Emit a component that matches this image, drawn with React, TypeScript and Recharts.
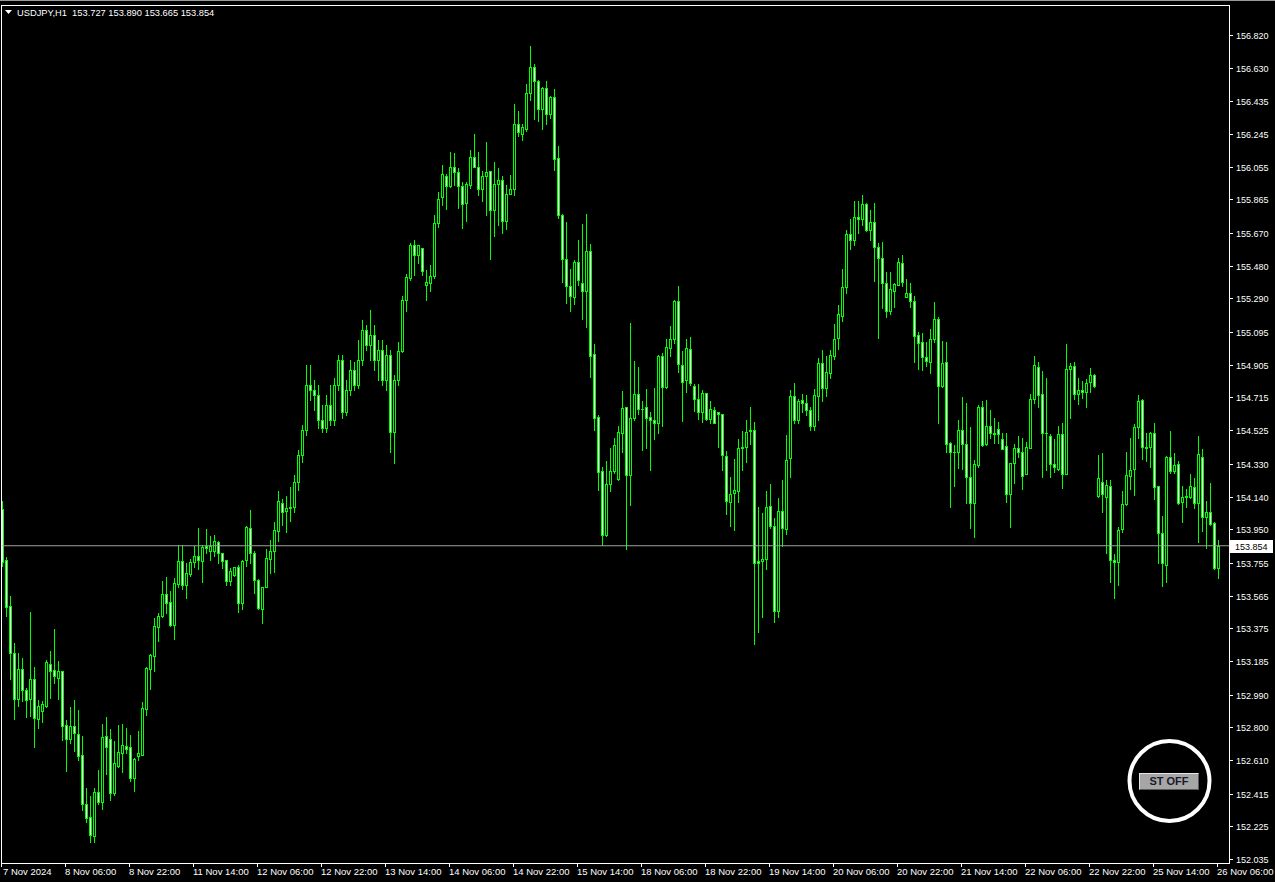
import { ComposedChart, Bar, XAxis, YAxis, ReferenceLine } from "recharts";

const SYMBOL = "USDJPY,H1";
const LAST_OHLC = [153.727, 153.89, 153.665, 153.854];
const LAST_PRICE = 153.854;

// one label every 16 hourly bars
const TIME_LABELS = [
  "7 Nov 2024", "8 Nov 06:00", "8 Nov 22:00", "11 Nov 14:00", "12 Nov 06:00",
  "12 Nov 22:00", "13 Nov 14:00", "14 Nov 06:00", "14 Nov 22:00", "15 Nov 14:00",
  "18 Nov 06:00", "18 Nov 22:00", "19 Nov 14:00", "20 Nov 06:00", "20 Nov 22:00",
  "21 Nov 14:00", "22 Nov 06:00", "22 Nov 22:00", "25 Nov 14:00", "26 Nov 06:00",
];

const PRICE_TICKS = [
  156.82, 156.63, 156.435, 156.245, 156.055, 155.865, 155.67, 155.48, 155.29,
  155.095, 154.905, 154.715, 154.525, 154.33, 154.14, 153.95, 153.755, 153.565,
  153.375, 153.185, 152.99, 152.8, 152.61, 152.415, 152.225, 152.035,
];

const OPEN = [
  154.066, 153.771, 153.504, 153.229, 152.962, 153.136, 153.014, 152.962, 153.078, 152.85,
  152.896, 152.923, 153.165, 153.131, 153.088, 153.125, 152.811, 152.734, 152.805, 152.759,
  152.637, 152.352, 152.277, 152.17, 152.422, 152.368, 152.747, 152.73, 152.416, 152.573,
  152.652, 152.691, 152.685, 152.507, 152.635, 152.641, 152.908, 153.14, 153.216, 153.384,
  153.446, 153.572, 153.525, 153.396, 153.634, 153.765, 153.624, 153.692, 153.758, 153.793,
  153.764, 153.854, 153.822, 153.822, 153.876, 153.81, 153.769, 153.647, 153.686, 153.729,
  153.52, 153.769, 153.955, 153.812, 153.655, 153.485, 153.613, 153.775, 153.822, 153.938,
  154.104, 154.054, 154.073, 154.077, 154.224, 154.381, 154.526, 154.787, 154.758, 154.729,
  154.584, 154.538, 154.671, 154.584, 154.787, 154.932, 154.631, 154.758, 154.874, 154.787,
  154.932, 155.107, 155.02, 155.078, 154.932, 154.991, 154.816, 154.962, 154.514, 154.816,
  154.984, 155.282, 155.406, 155.599, 155.54, 155.586, 155.37, 155.381, 155.418, 155.728,
  155.877, 155.999, 155.941, 156.056, 156.022, 155.941, 155.843, 155.948, 156.109, 156.056,
  155.923, 155.999, 156.029, 155.801, 155.953, 155.976, 155.742, 155.896, 155.923, 156.302,
  156.247, 156.277, 156.481, 156.633, 156.552, 156.391, 156.511, 156.359, 156.458, 156.104,
  155.774, 155.519, 155.365, 155.298, 155.501, 155.377, 155.331, 155.563, 154.966, 154.6,
  154.286, 153.918, 154.215, 154.286, 154.242, 154.511, 154.658, 154.267, 154.598, 154.738,
  154.651, 154.662, 154.6, 154.587, 154.568, 154.954, 154.775, 155.0, 155.053, 155.275,
  154.901, 154.816, 154.995, 154.784, 154.706, 154.628, 154.741, 154.591, 154.64, 154.628,
  154.617, 154.375, 154.111, 154.162, 154.173, 154.426, 154.43, 154.518, 154.529, 153.765,
  153.765, 153.776, 154.086, 153.971, 153.478, 154.054, 153.953, 154.362, 154.724, 154.587,
  154.701, 154.685, 154.644, 154.552, 154.724, 154.913, 154.772, 154.859, 154.958, 155.059,
  155.19, 155.359, 155.663, 155.632, 155.761, 155.75, 155.837, 155.69, 155.732, 155.587,
  155.527, 155.382, 155.219, 155.335, 155.368, 155.494, 155.301, 155.32, 155.273, 155.076,
  155.035, 154.952, 154.923, 155.053, 155.169, 154.784, 154.919, 154.453, 154.4, 154.4,
  154.526, 154.443, 154.251, 154.104, 154.323, 154.658, 154.445, 154.55, 154.507, 154.53,
  154.472, 154.435, 154.157, 154.333, 154.42, 154.397, 154.269, 154.424, 154.706, 154.894,
  154.733, 154.511, 154.493, 154.327, 154.3, 154.501, 154.273, 154.879, 154.896, 154.733,
  154.759, 154.745, 154.805, 154.844, 154.143, 154.226, 154.135, 154.203, 153.769, 153.758,
  153.949, 154.095, 154.259, 154.298, 154.542, 154.699, 154.426, 154.426, 154.507, 154.201,
  153.926, 153.74, 154.368, 154.29, 154.327, 154.11, 154.135, 154.139, 154.193, 154.1,
  154.368, 154.019, 154.052, 153.984, 153.727,
];

const HIGH = [
  154.114, 153.787, 153.562, 153.289, 153.231, 153.202, 153.026, 153.469, 153.15, 152.958,
  152.952, 153.191, 153.243, 153.371, 153.185, 153.125, 152.842, 152.918, 152.96, 152.9,
  152.749, 152.449, 152.401, 152.445, 152.552, 152.819, 152.86, 152.79, 152.722, 152.813,
  152.821, 152.796, 152.755, 152.621, 152.778, 152.947, 153.15, 153.227, 153.434, 153.462,
  153.649, 153.673, 153.591, 153.665, 153.858, 153.858, 153.752, 153.779, 153.853, 153.957,
  153.858, 153.949, 153.911, 153.916, 153.883, 153.814, 153.771, 153.725, 153.729, 153.742,
  153.771, 153.969, 154.062, 153.824, 153.659, 153.613, 153.833, 153.887, 153.994, 154.17,
  154.126, 154.143, 154.195, 154.265, 154.41, 154.555, 154.903, 154.903, 154.816, 154.787,
  154.671, 154.729, 154.787, 154.828, 154.962, 154.962, 154.816, 154.932, 154.921, 155.049,
  155.165, 155.136, 155.223, 155.136, 155.049, 155.049, 155.02, 154.991, 154.845, 155.04,
  155.303, 155.432, 155.615, 155.629, 155.599, 155.586, 155.455, 155.482, 155.772, 155.907,
  156.063, 156.012, 156.141, 156.132, 156.047, 155.964, 155.964, 156.15, 156.244, 156.143,
  156.033, 156.196, 156.033, 156.081, 156.047, 155.999, 155.948, 156.006, 156.417, 156.378,
  156.302, 156.538, 156.756, 156.649, 156.561, 156.518, 156.552, 156.463, 156.506, 156.176,
  155.781, 155.735, 155.459, 155.512, 155.629, 155.723, 155.781, 155.604, 155.023, 154.614,
  154.311, 154.346, 154.421, 154.479, 154.552, 154.752, 154.658, 155.147, 154.927, 154.89,
  154.697, 154.763, 154.633, 154.77, 154.959, 154.972, 155.053, 155.131, 155.282, 155.363,
  154.984, 155.053, 155.069, 154.793, 154.793, 154.759, 154.741, 154.695, 154.66, 154.628,
  154.621, 154.403, 154.254, 154.357, 154.472, 154.518, 154.582, 154.66, 154.575, 154.077,
  154.047, 154.173, 154.212, 154.013, 154.134, 154.235, 154.499, 154.759, 154.8, 154.706,
  154.736, 154.729, 154.66, 154.763, 154.943, 154.991, 154.956, 154.991, 155.142, 155.252,
  155.461, 155.688, 155.752, 155.856, 155.856, 155.891, 155.843, 155.804, 155.843, 155.61,
  155.616, 155.442, 155.442, 155.378, 155.523, 155.543, 155.401, 155.378, 155.304, 155.097,
  155.088, 155.035, 155.111, 155.27, 155.184, 155.045, 155.035, 154.459, 154.439, 154.584,
  154.716, 154.681, 154.546, 154.352, 154.671, 154.697, 154.701, 154.642, 154.594, 154.571,
  154.507, 154.507, 154.337, 154.445, 154.493, 154.478, 154.455, 154.735, 154.956, 154.923,
  154.869, 154.83, 154.501, 154.472, 154.55, 154.565, 155.026, 154.913, 154.919, 154.826,
  154.811, 154.821, 154.884, 154.852, 154.381, 154.391, 154.236, 154.236, 153.806, 153.965,
  154.172, 154.4, 154.478, 154.561, 154.73, 154.704, 154.511, 154.517, 154.569, 154.201,
  154.027, 154.375, 154.522, 154.395, 154.348, 154.201, 154.182, 154.271, 154.246, 154.491,
  154.416, 154.114, 154.217, 153.994, 153.89,
];

const LOW = [
  153.738, 153.448, 153.08, 152.85, 152.925, 152.954, 152.862, 152.865, 152.687, 152.798,
  152.829, 152.919, 152.972, 153.055, 152.962, 152.728, 152.548, 152.71, 152.664, 152.612,
  152.321, 152.252, 152.136, 152.136, 152.354, 152.325, 152.529, 152.378, 152.405, 152.571,
  152.542, 152.649, 152.488, 152.43, 152.612, 152.641, 152.871, 153.024, 153.129, 153.301,
  153.44, 153.465, 153.39, 153.312, 153.613, 153.601, 153.553, 153.68, 153.733, 153.719,
  153.645, 153.81, 153.769, 153.794, 153.752, 153.725, 153.628, 153.628, 153.678, 153.471,
  153.485, 153.738, 153.752, 153.578, 153.485, 153.407, 153.613, 153.698, 153.703, 153.882,
  153.974, 153.932, 154.0, 154.05, 154.178, 154.34, 154.497, 154.7, 154.642, 154.538,
  154.514, 154.514, 154.555, 154.555, 154.758, 154.596, 154.613, 154.729, 154.758, 154.77,
  154.903, 154.991, 154.932, 154.874, 154.816, 154.787, 154.758, 154.398, 154.334, 154.787,
  154.977, 155.218, 155.397, 155.429, 155.498, 155.429, 155.282, 155.333, 155.411, 155.707,
  155.833, 155.81, 155.937, 155.948, 155.815, 155.7, 155.742, 155.934, 156.052, 155.893,
  155.856, 155.776, 155.517, 155.65, 155.719, 155.673, 155.696, 155.896, 155.891, 156.233,
  156.212, 156.263, 156.44, 156.332, 156.32, 156.274, 156.304, 156.339, 156.038, 155.758,
  155.386, 155.264, 155.218, 155.257, 155.367, 155.168, 155.122, 154.835, 154.529, 154.178,
  153.859, 153.909, 154.173, 154.277, 154.238, 154.396, 153.836, 154.093, 154.587, 154.621,
  154.41, 154.419, 154.295, 154.476, 154.506, 154.552, 154.77, 154.954, 155.034, 154.862,
  154.58, 154.747, 154.786, 154.639, 154.591, 154.575, 154.587, 154.564, 154.564, 154.43,
  154.295, 154.04, 153.971, 153.948, 154.109, 154.295, 154.341, 154.444, 153.282, 153.351,
  153.439, 153.719, 153.955, 153.409, 153.443, 153.852, 153.921, 154.254, 154.568, 154.564,
  154.633, 154.614, 154.529, 154.529, 154.587, 154.697, 154.724, 154.826, 154.937, 154.995,
  155.161, 155.324, 155.577, 155.601, 155.668, 155.717, 155.684, 155.63, 155.393, 155.059,
  155.233, 155.184, 155.2, 155.243, 155.368, 155.364, 155.301, 155.239, 154.923, 154.881,
  154.875, 154.898, 154.859, 155.035, 154.565, 154.778, 154.4, 154.081, 154.201, 154.304,
  154.298, 154.104, 153.959, 153.907, 154.31, 154.433, 154.439, 154.478, 154.449, 154.449,
  154.414, 154.11, 153.965, 154.217, 154.371, 154.184, 154.269, 154.424, 154.685, 154.658,
  154.251, 154.294, 154.251, 154.284, 154.294, 154.191, 154.273, 154.598, 154.708, 154.675,
  154.71, 154.662, 154.749, 154.778, 154.139, 154.052, 153.814, 153.646, 153.549, 153.626,
  153.936, 154.091, 154.182, 154.149, 154.478, 154.356, 154.348, 154.313, 154.128, 153.752,
  153.62, 153.646, 154.279, 154.275, 154.097, 153.994, 154.077, 154.129, 154.071, 153.878,
  153.942, 153.839, 153.975, 153.719, 153.665,
];

const CLOSE = [
  153.762, 153.5, 153.229, 152.962, 153.136, 153.014, 152.956, 153.082, 152.852, 152.923,
  152.933, 153.179, 153.129, 153.096, 153.125, 152.809, 152.734, 152.805, 152.765, 152.635,
  152.352, 152.275, 152.176, 152.422, 152.366, 152.743, 152.687, 152.42, 152.59, 152.656,
  152.695, 152.676, 152.507, 152.616, 152.649, 152.91, 153.144, 153.22, 153.388, 153.446,
  153.572, 153.523, 153.394, 153.636, 153.765, 153.624, 153.694, 153.758, 153.793, 153.769,
  153.845, 153.843, 153.854, 153.88, 153.81, 153.764, 153.647, 153.705, 153.729, 153.52,
  153.765, 153.963, 153.81, 153.653, 153.494, 153.613, 153.781, 153.825, 153.943, 154.112,
  154.05, 154.071, 154.077, 154.224, 154.381, 154.526, 154.787, 154.758, 154.729, 154.584,
  154.538, 154.671, 154.584, 154.787, 154.932, 154.631, 154.758, 154.874, 154.787, 154.932,
  155.107, 155.02, 155.078, 154.932, 154.991, 154.816, 154.962, 154.514, 154.816, 154.984,
  155.282, 155.413, 155.599, 155.54, 155.599, 155.452, 155.383, 155.418, 155.726, 155.866,
  156.01, 155.946, 156.056, 156.022, 155.941, 155.836, 155.953, 156.109, 156.056, 155.923,
  155.999, 156.022, 155.801, 155.953, 155.976, 155.742, 155.896, 155.923, 156.302, 156.254,
  156.283, 156.481, 156.633, 156.552, 156.391, 156.511, 156.359, 156.458, 156.102, 155.776,
  155.521, 155.365, 155.305, 155.501, 155.395, 155.331, 155.563, 154.954, 154.598, 154.284,
  153.918, 154.215, 154.286, 154.437, 154.513, 154.653, 154.267, 154.598, 154.738, 154.651,
  154.65, 154.598, 154.587, 154.568, 154.954, 154.775, 155.007, 155.057, 155.275, 154.908,
  154.805, 155.0, 154.798, 154.706, 154.628, 154.741, 154.591, 154.646, 154.568, 154.617,
  154.38, 154.116, 154.157, 154.178, 154.421, 154.424, 154.513, 154.529, 153.753, 153.753,
  153.776, 154.077, 153.971, 153.478, 154.054, 153.955, 154.352, 154.724, 154.587, 154.695,
  154.685, 154.644, 154.552, 154.729, 154.913, 154.772, 154.861, 154.962, 155.053, 155.198,
  155.355, 155.663, 155.632, 155.761, 155.754, 155.837, 155.69, 155.732, 155.587, 155.527,
  155.382, 155.219, 155.343, 155.372, 155.5, 155.388, 155.32, 155.277, 155.074, 155.033,
  154.952, 154.929, 155.053, 155.169, 154.784, 154.913, 154.445, 154.4, 154.398, 154.526,
  154.443, 154.255, 154.104, 154.327, 154.658, 154.441, 154.55, 154.511, 154.505, 154.503,
  154.418, 154.157, 154.333, 154.42, 154.397, 154.261, 154.426, 154.704, 154.904, 154.73,
  154.511, 154.509, 154.327, 154.313, 154.501, 154.273, 154.879, 154.896, 154.733, 154.759,
  154.745, 154.801, 154.844, 154.78, 154.246, 154.153, 154.207, 153.769, 153.758, 153.946,
  154.095, 154.265, 154.294, 154.542, 154.695, 154.426, 154.424, 154.507, 154.197, 153.926,
  153.752, 154.368, 154.29, 154.323, 154.102, 154.135, 154.143, 154.201, 154.104, 154.385,
  154.019, 154.052, 153.978, 153.727, 153.854,
];

const BARS_PER_LABEL = 16;
const GREEN = "#00ff00";
const FONT = '"Liberation Sans", Arial, sans-serif';

const data = OPEN.map((open, i) => ({
  i,
  open,
  high: HIGH[i],
  low: LOW[i],
  close: CLOSE[i],
}));

const labelIdx = TIME_LABELS.map((_, n) => n * BARS_PER_LABEL);

// draws one candle from the range bar (low..high) rectangle
const Candle = (props: any) => {
  const { x, y, width, height, payload } = props;
  if (!payload) return null;
  const { open, high, low, close } = payload;
  const top = Math.min(y, y + height);
  const bot = Math.max(y, y + height);
  const span = high - low || 1;
  const toY = (v: number) => top + ((high - v) / span) * (bot - top);
  const col = Math.floor(x + width / 2 - 1.5);
  const hiY = Math.round(top);
  const loY = Math.round(bot);
  const oY = Math.round(toY(open));
  const cY = Math.round(toY(close));
  const bTop = Math.min(oY, cY);
  const bBot = Math.max(oY, cY);
  const bull = close > open;
  return (
    <g>
      <line x1={col + 1.5} x2={col + 1.5} y1={hiY} y2={loY + 1} stroke={GREEN} strokeWidth={1} />
      {bBot - bTop < 1 ? (
        <line x1={col} x2={col + 3} y1={bTop + 0.5} y2={bTop + 0.5} stroke={GREEN} strokeWidth={1} />
      ) : (
        <rect
          x={col + 0.5}
          y={bTop + 0.5}
          width={2}
          height={bBot - bTop}
          fill={bull ? "#000000" : "#ffffff"}
          stroke={GREEN}
          strokeWidth={1}
        />
      )}
    </g>
  );
};

const TimeTick = (props: any) => {
  const { x, y, payload } = props;
  const n = Math.round(payload.value / BARS_PER_LABEL);
  const label = TIME_LABELS[n];
  const tx = Math.floor(x) - 2; // MT4 puts the tick at the bar's left edge
  const textX = n === 0 ? 3 : tx;
  return (
    <g>
      <line x1={tx + 0.5} x2={tx + 0.5} y1={y} y2={y + 4} stroke="#ffffff" />
      <text x={textX} y={y + 12} fill="#ffffff" fontSize={9.5} fontFamily={FONT} textAnchor="start">
        {label}
      </text>
    </g>
  );
};

const PriceTick = (props: any) => {
  const { x, y, payload } = props;
  const py = Math.round(y) + 0.5;
  return (
    <g>
      <line x1={x} x2={x + 4} y1={py} y2={py} stroke="#ffffff" />
      <text x={x + 7} y={py + 3.5} fill="#ffffff" fontSize={9} fontFamily={FONT} textAnchor="start">
        {Number(payload.value).toFixed(3)}
      </text>
    </g>
  );
};

const PriceBox = (props: any) => {
  const vb = props.viewBox || {};
  const bx = vb.x + vb.width + 1;
  const by = Math.round(vb.y);
  return (
    <g>
      <rect x={bx} y={by - 6} width={43} height={13} fill="#ffffff" />
      <text x={bx + 5} y={by + 4} fill="#000000" fontSize={9} fontFamily={FONT}>
        {LAST_PRICE.toFixed(3)}
      </text>
    </g>
  );
};

export default function App() {
  return (
    <div
      style={{
        position: "absolute",
        left: 0,
        top: 0,
        width: 1275,
        height: 882,
        background: "#000000",
        overflow: "hidden",
        borderTop: "1px solid #9a9a9a",
        boxSizing: "border-box",
      }}
    >
      <div style={{ position: "absolute", left: 0, top: -1 }}>
        <ComposedChart
          width={1275}
          height={882}
          data={data}
          margin={{ top: 5, right: 0, bottom: 0, left: 1 }}
          barCategoryGap={0}
        >
          <XAxis
            dataKey="i"
            type="category"
            ticks={labelIdx}
            interval={0}
            padding={{ left: 0, right: 8 }}
            axisLine={false}
            tickLine={false}
            tickSize={0}
            tickMargin={0}
            height={19}
            tick={<TimeTick />}
          />
          <YAxis
            orientation="right"
            type="number"
            domain={[152.0118, 156.9942]}
            allowDataOverflow
            ticks={PRICE_TICKS}
            interval={0}
            width={46}
            axisLine={false}
            tickLine={false}
            tickSize={0}
            tickMargin={0}
            tick={<PriceTick />}
          />
          <ReferenceLine y={LAST_PRICE} stroke="#a0a0a0" strokeWidth={1} label={PriceBox} />
          <Bar
            dataKey={(d: any) => [d.low, d.high]}
            shape={Candle}
            isAnimationActive={false}
          />
        </ComposedChart>
      </div>
      {/* chart frame */}
      <div
        style={{
          position: "absolute",
          left: 1,
          top: 4,
          width: 1229,
          height: 859,
          border: "1px solid #ffffff",
          boxSizing: "border-box",
          pointerEvents: "none",
        }}
      />
      <svg width={1275} height={882} style={{ position: "absolute", left: 0, top: -1, pointerEvents: "none" }}>
        <polygon points="5,10 12,10 8.5,14" fill="#ffffff" />
        <text x={17} y={16} fill="#ffffff" fontSize={9.3} fontFamily={FONT} style={{ whiteSpace: "pre" }}>
          {`${SYMBOL}  ${LAST_OHLC.map((v) => v.toFixed(3)).join(" ")}`}
        </text>
        <circle cx={1169.5} cy={781} r={40} fill="none" stroke="#ffffff" strokeWidth={4} />
      </svg>
      <div
        style={{
          position: "absolute",
          left: 1139,
          top: 772,
          width: 60,
          height: 17,
          background: "#a6a6a6",
          borderTop: "1px solid #e6e6e6",
          borderLeft: "1px solid #e6e6e6",
          borderRight: "1px solid #5a5a5a",
          borderBottom: "1px solid #5a5a5a",
          boxSizing: "border-box",
          color: "#1a1a2a",
          fontFamily: FONT,
          fontWeight: "bold",
          fontSize: 11,
          lineHeight: "15px",
          textAlign: "center",
        }}
      >
        ST OFF
      </div>
    </div>
  );
}
